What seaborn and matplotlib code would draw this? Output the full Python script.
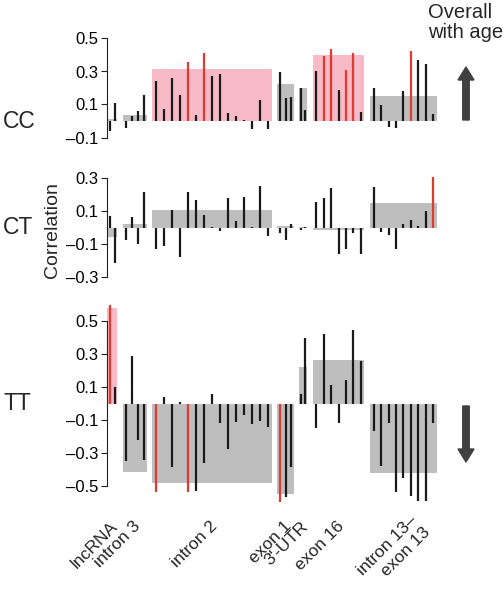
import matplotlib
matplotlib.use('Agg')
import matplotlib.pyplot as plt
from matplotlib.patches import FancyArrow
import seaborn as sns

# Style
sns.set_theme(style='white')
plt.rcParams['font.family'] = ['Liberation Sans', 'DejaVu Sans']

# Regions along the gene (bottom axis labels)
regions = ['lncRNA', 'intron 3', 'intron 2', 'exon 1', "3'-UTR", 'exon 16', 'intron 13–\nexon 13']

# Overall correlation with age per region (background boxes)
cc_overall = [0.015, 0.038, 0.313, 0.226, 0.20, 0.40, 0.154]
ct_overall = [-0.057, 0.027, 0.11, 0.01, 0.008, -0.01, 0.15]
tt_overall = [0.577, -0.414, -0.479, -0.547, 0.224, 0.263, -0.418]

# Per-CpG correlation with age, one list per region
cc_cpg = [
    [-0.06, 0.11],
    [-0.045, 0.03, 0.06, 0.157],
    [0.245, 0.07, 0.26, 0.155, 0.36, 0.035, 0.41, 0.275, 0.283, 0.05, 0.03, 0.006, -0.05, 0.125, -0.047],
    [0.295, 0.14, 0.147],
    [0.2, 0.067],
    [0.305, 0.394, 0.434, 0.19, 0.31, 0.414, 0.053],
    [0.2, 0.095, -0.036, -0.044, 0.184, 0.426, 0.37, 0.343, 0.044],
]
ct_cpg = [
    [0.072, -0.213],
    [-0.072, 0.068, -0.098, 0.221],
    [-0.126, -0.112, 0.112, -0.177, 0.217, 0.167, 0.081, 0.007, -0.02, 0.18, 0.04, 0.19, 0.008, 0.257, -0.05],
    [-0.03, -0.075, 0.022],
    [-0.014, 0.008],
    [0.157, 0.18, 0.242, -0.16, -0.13, -0.032, -0.158],
    [0.248, -0.024, -0.04, -0.127, 0.024, 0.046, 0.012, 0.1, 0.307],
]
tt_cpg = [
    [0.60, 0.104],
    [-0.347, 0.288, -0.217, -0.343],
    [-0.537, 0.043, -0.382, 0.01, -0.537, -0.529, -0.357, 0.059, -0.115, -0.275, -0.11, -0.069, -0.124, -0.105, -0.143],
    [-0.598, -0.567, -0.382],
    [0.057, 0.40],
    [-0.149, 0.424, 0.111, -0.119, 0.145, 0.445, 0.257],
    [-0.164, -0.38, -0.115, -0.537, -0.45, -0.56, -0.59, -0.59, -0.115],
]

# Significant regions (pink box) and significant CpGs (red line), by region index
cc_sig_regions = [2, 5]
ct_sig_regions = []
tt_sig_regions = [0]
cc_sig_cpg = {2: [4, 6], 5: [1, 2, 4, 5], 6: [5]}
ct_sig_cpg = {6: [8]}
tt_sig_cpg = {0: [0], 2: [0, 4], 3: [0]}

# Layout: horizontal extent of each region box (pixel-like units)
spans = [(107.3, 117.3), (122.7, 146.7), (152.3, 272.3), (277.3, 294.0),
         (299.3, 307.0), (312.7, 364.3), (370.0, 436.7)]
label_shift = [3, 3, 3, 3, 3, 3, 18]

PINK = '#F7BAC6'
GRAY = '#BEBEBE'
RED = '#E23A2E'
BLACK = '#1A1A1A'

W, H = 504, 600
fig = plt.figure(figsize=(W / 100, H / 100), dpi=100)

panels = [
    ('CC', cc_overall, cc_cpg, cc_sig_regions, cc_sig_cpg, (-0.12, 0.52), [-0.1, 0.1, 0.3, 0.5], 121.0),
    ('CT', ct_overall, ct_cpg, ct_sig_regions, ct_sig_cpg, (-0.32, 0.32), [-0.3, -0.1, 0.1, 0.3], 228.0),
    ('TT', tt_overall, tt_cpg, tt_sig_regions, tt_sig_cpg, (-0.62, 0.62), [-0.5, -0.3, -0.1, 0.1, 0.3, 0.5], 403.7),
]
px_per_unit = 165.0
x0, x1 = 106.5, 440.0

for name, overall, cpg, sig_reg, sig_cpg, ylim, yticks, zero_px in panels:
    top_px = zero_px - ylim[1] * px_per_unit
    bot_px = zero_px - ylim[0] * px_per_unit
    ax = fig.add_axes([x0 / W, 1 - bot_px / H, (x1 - x0) / W, (bot_px - top_px) / H])

    for i, (a, b) in enumerate(spans):
        box_color = PINK if i in sig_reg else GRAY
        ax.bar((a + b) / 2, overall[i], width=b - a, color=box_color, linewidth=0, zorder=1)
        vals = cpg[i]
        n = len(vals)
        xs = [a + (j + 0.5) * (b - a) / n for j in range(n)]
        reds = sig_cpg.get(i, [])
        cols = [RED if j in reds else BLACK for j in range(n)]
        ax.vlines(xs, 0, vals, colors=cols, linewidth=1.6, zorder=2)

    ax.set_xlim(x0, x1)
    ax.set_ylim(*ylim)
    ax.set_yticks(yticks)
    ax.set_yticklabels([f'{t:.1f}'.replace('-', '–') for t in yticks], fontsize=12)
    ax.tick_params(axis='y', direction='out', length=4, width=0.8, pad=2,
                   colors='#222222', labelcolor='black', left=True)
    for side in ['top', 'right', 'bottom']:
        ax.spines[side].set_visible(False)
    ax.spines['left'].set_bounds(yticks[0], yticks[-1])
    ax.spines['left'].set_color('#222222')
    ax.spines['left'].set_linewidth(0.8)
    ax.set_facecolor('none')

    fig.text(3 / W, 1 - zero_px / H, name, fontsize=16.5, ha='left', va='center')

    if name != 'TT':
        ax.set_xticks([])
    else:
        centers = [(a + b) / 2 + s for (a, b), s in zip(spans, label_shift)]
        ax.set_xticks(centers)
        ax.set_xticklabels(regions, rotation=45, ha='right', va='center',
                           rotation_mode='anchor', fontsize=12.5, linespacing=1.2)
        ax.tick_params(axis='x', length=0, pad=13)

# Axis label
fig.text(53 / W, 1 - 230 / H, 'Correlation', rotation=90, fontsize=14, ha='center', va='center')

# Overall trend with age
fig.text(428 / W, 1 - 3 / H, 'Overall\nwith age', fontsize=14.5, ha='left', va='top', linespacing=1.05)
arrow_kw = dict(width=0.065, head_width=0.16, head_length=0.13, length_includes_head=True,
                color='#404040', transform=fig.dpi_scale_trans)
fig.add_artist(FancyArrow(4.66, (H - 120) / 100, 0, 0.53, **arrow_kw))
fig.add_artist(FancyArrow(4.66, (H - 406) / 100, 0, -0.56, **arrow_kw))

plt.savefig('out.png', dpi=100)
